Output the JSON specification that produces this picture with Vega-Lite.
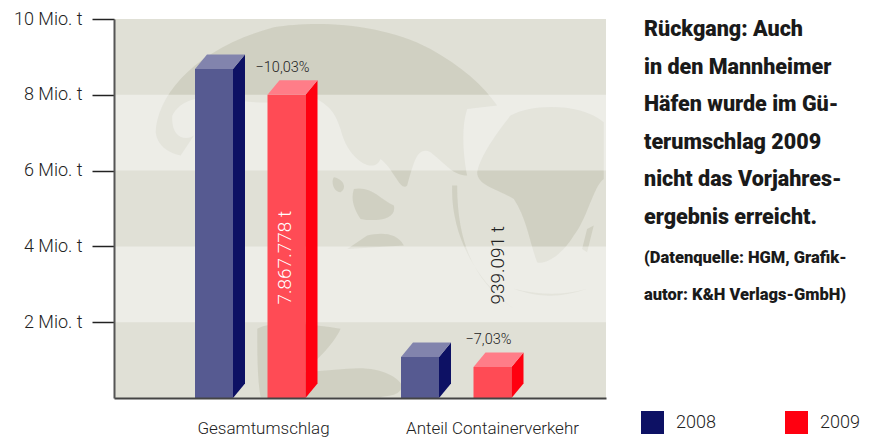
{
"$schema":"https://vega.github.io/schema/vega-lite/v6.json",
"width":492,"height":379,
"padding":{"left":114,"top":19,"right":274,"bottom":40},
"autosize":"none",
"background":"white",
"datasets":{
"balken":[
{"gruppe":"Gesamtumschlag","jahr":2008,"wert":8.68},
{"gruppe":"Gesamtumschlag","jahr":2009,"wert":8.0,"veraenderung":"−10,03%","betrag":"7.867.778 t"},
{"gruppe":"Anteil Containerverkehr","jahr":2008,"wert":1.08},
{"gruppe":"Anteil Containerverkehr","jahr":2009,"wert":0.82,"veraenderung":"−7,03%","betrag":"939.091 t"}
],
"hell":[{"von":2,"bis":4},{"von":6,"bis":8}],
"flaeche":[{"von":0,"bis":10}]
},
"title":{
"text":["Rückgang: Auch","in den Mannheimer","Häfen wurde im Gü-","terumschlag 2009","nicht das Vorjahres-","ergebnis erreicht."],
"subtitle":["(Datenquelle: HGM, Grafik-","autor: K&H Verlags-GmbH)"],
"anchor":"start","frame":"group","orient":"top","baseline":"top","offset":0,
"dx":530,"dy":293,
"font":"Roboto","fontSize":21.5,"fontWeight":900,"color":"#1a1a1a","lineHeight":37.6,
"subtitleFont":"Roboto","subtitleFontSize":16.5,"subtitleFontWeight":900,"subtitleColor":"#1a1a1a","subtitleLineHeight":37,"subtitlePadding":21
},
"config":{"view":{"stroke":null},"font":"Roboto"},
"layer":[
{"data":{"name":"flaeche"},"mark":{"type":"rect","fill":"#e0e0d6"},
"encoding":{
"x":{"datum":0,"type":"quantitative","scale":{"domain":[0,492],"nice":false},
"axis":{"values":[149,378],"labelExpr":"datum.value==149?'Gesamtumschlag':'Anteil Containerverkehr'","title":null,"grid":false,"domainColor":"#444444","domainWidth":2,"tickSize":0,"labelPadding":22,"labelFontSize":17,"labelFont":"Roboto","labelFontWeight":300,"labelColor":"#222222","zindex":1,"labelAngle":0}},
"x2":{"datum":492},
"y":{"field":"von","type":"quantitative","scale":{"domain":[0,10],"nice":false},
"axis":{"values":[2,4,6,8,10],"labelExpr":"datum.value+' Mio. t'","title":null,"grid":false,"domainColor":"#555555","domainWidth":2,"tickColor":"#222222","tickWidth":1.5,"tickSize":22,"labelPadding":10,"labelFontSize":18,"labelFont":"Roboto","labelFontWeight":300,"labelColor":"#222222","zindex":1}},
"y2":{"field":"bis"}}},
{"data":{"values":[{}]},
"mark":{"type":"point","filled":true,"fill":"#6f6f4c","opacity":0.14,"size":0.444,"strokeWidth":0,
"shape":"M125,340 C130,230 240,90 480,25 C600,5 800,10 950,90 C1040,140 1110,200 1150,260 L1060,270 C1040,330 1050,420 1060,470 C1020,470 1000,440 950,400 C910,380 900,430 880,500 C860,520 840,450 800,420 C780,470 700,420 680,330 C660,270 640,260 610,240 C500,250 420,260 330,235 C260,230 200,240 175,290 C170,350 210,370 240,350 L200,410 C160,400 130,380 125,340 Z M720,510 C770,500 800,540 840,560 C850,600 790,610 740,600 C720,570 710,540 720,510 Z M660,475 C690,480 700,510 680,520 C660,520 650,490 660,475 Z M1190,290 C1250,255 1400,250 1470,310 L1470,480 C1440,500 1420,600 1380,650 C1350,700 1300,740 1270,730 C1250,680 1240,600 1200,540 C1150,510 1090,500 1090,460 C1100,410 1150,340 1190,290 Z M1015,500 C1010,640 1080,780 1200,870 C1100,800 1030,700 1030,500 Z M430,930 C480,900 620,920 680,930 C660,980 590,1040 570,1060 L700,1050 C790,1040 850,1070 865,1100 C860,1130 830,1130 800,1135 L440,1135 C430,1080 430,1000 430,930 Z M700,690 L870,680 C850,640 800,640 760,650 Z M1200,810 C1280,830 1350,830 1420,810 C1350,835 1280,840 1200,810 Z M1420,630 L1440,620 L1420,700 L1405,690 Z"},
"encoding":{"x":{"datum":0,"type":"quantitative"},"y":{"datum":10,"type":"quantitative"}}},
{"data":{"name":"hell"},"mark":{"type":"rect","fill":"#ffffff","opacity":0.42},
"encoding":{"x":{"datum":0,"type":"quantitative"},"x2":{"datum":492},"y":{"field":"von","type":"quantitative"},"y2":{"field":"bis"}}},
{"data":{"name":"balken"},
"transform":[
{"calculate":"(datum.gruppe=='Gesamtumschlag'?81:287)+(datum.jahr==2009?72.5:0)","as":"links"},
{"calculate":"datum.links+38","as":"rechts"}
],
"layer":[
{"mark":{"type":"rect"},
"encoding":{
"x":{"field":"links","type":"quantitative"},"x2":{"field":"rechts"},
"y":{"field":"wert","type":"quantitative"},"y2":{"datum":0},
"fill":{"condition":{"test":"datum.jahr==2008","value":"#565a91"},"value":"#ff4b55"}}},
{"transform":[
{"calculate":"[0,1]","as":"v"},{"flatten":["v"]},
{"calculate":"datum.rechts+datum.v*12","as":"sx"},
{"calculate":"datum.wert+datum.v*0.383","as":"sy"},
{"calculate":"datum.v*0.383","as":"sy2"}],
"mark":{"type":"area","orient":"vertical","opacity":1},
"encoding":{
"x":{"field":"sx","type":"quantitative"},
"y":{"field":"sy","type":"quantitative","stack":null},"y2":{"field":"sy2"},
"detail":{"field":"gruppe"},
"color":{"field":"jahr","type":"nominal","scale":{"domain":[2008,2009],"range":["#0d1164","#ff0010"]},
"legend":{"title":null,"orient":"none","legendX":527,"legendY":392,"direction":"horizontal","columns":2,"symbolType":"square","symbolSize":529,"symbolStrokeWidth":0,"symbolOpacity":1,"labelFontSize":18,"labelFont":"Roboto","labelFontWeight":300,"labelColor":"#222222","labelOffset":12,"columnPadding":69,"padding":0}}}},
{"transform":[
{"filter":"datum.jahr==2008"},
{"calculate":"[0,1,2,3]","as":"v"},{"flatten":["v"]},
{"calculate":"datum.links+[0,12,38,50][datum.v]","as":"sx"},
{"calculate":"datum.wert+[0,0.383,0.383,0.383][datum.v]","as":"sy"},
{"calculate":"datum.wert+[0,0,0,0.383][datum.v]","as":"sy2"}],
"mark":{"type":"area","orient":"vertical","opacity":1,"color":"#8284ad"},
"encoding":{
"x":{"field":"sx","type":"quantitative"},
"y":{"field":"sy","type":"quantitative","stack":null},"y2":{"field":"sy2"},
"detail":{"field":"gruppe"}}},
{"transform":[
{"filter":"datum.jahr==2009"},
{"calculate":"[0,1,2,3]","as":"v"},{"flatten":["v"]},
{"calculate":"datum.links+[0,12,38,50][datum.v]","as":"sx"},
{"calculate":"datum.wert+[0,0.383,0.383,0.383][datum.v]","as":"sy"},
{"calculate":"datum.wert+[0,0,0,0.383][datum.v]","as":"sy2"}],
"mark":{"type":"area","orient":"vertical","opacity":1,"color":"#ff7d88"},
"encoding":{
"x":{"field":"sx","type":"quantitative"},
"y":{"field":"sy","type":"quantitative","stack":null},"y2":{"field":"sy2"},
"detail":{"field":"gruppe"}}},
{"transform":[{"filter":"datum.veraenderung"},{"calculate":"datum.links+15","as":"tx"},{"calculate":"datum.wert+0.72","as":"ty"}],
"mark":{"type":"text","fontSize":14.5,"fontWeight":300,"color":"#222222","font":"Roboto"},
"encoding":{"x":{"field":"tx","type":"quantitative"},"y":{"field":"ty","type":"quantitative"},"text":{"field":"veraenderung"}}},
{"transform":[{"filter":"datum.jahr==2009 && datum.gruppe=='Gesamtumschlag'"}],
"mark":{"type":"text","angle":270,"fontSize":19,"fontWeight":300,"color":"#ffffff","font":"Roboto"},
"encoding":{"x":{"datum":171,"type":"quantitative"},"y":{"datum":3.7,"type":"quantitative"},"text":{"field":"betrag"}}},
{"transform":[{"filter":"datum.jahr==2009 && datum.gruppe!='Gesamtumschlag'"}],
"mark":{"type":"text","angle":270,"fontSize":19,"fontWeight":300,"color":"#222222","font":"Roboto"},
"encoding":{"x":{"datum":384,"type":"quantitative"},"y":{"datum":3.5,"type":"quantitative"},"text":{"field":"betrag"}}}
]}
]
}
